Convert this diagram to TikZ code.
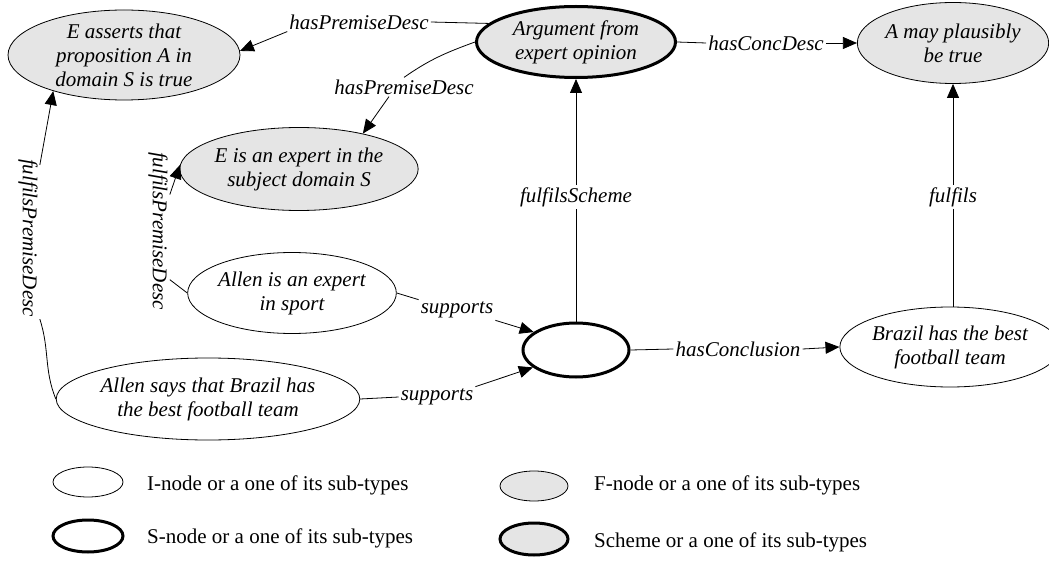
\documentclass[tikz,border=0pt]{standalone}
\usepackage{fontspec}
\setmainfont{Liberation Serif}[ItalicFont={Liberation Serif Italic},BoldFont={Liberation Serif Bold}]
\usetikzlibrary{shapes.geometric,arrows.meta,calc}
\definecolor{fgray}{RGB}{229,229,229}
\begin{document}
\begin{tikzpicture}[x=1pt,y=-1pt,
  el/.style={ellipse,draw,line width=0.8pt,inner sep=0pt,align=center,
    font=\fontsize{21}{24}\selectfont\itshape},
  inode/.style={el,fill=white},
  fnode/.style={el,fill=fgray},
  snode/.style={el,fill=white,line width=3pt},
  scheme/.style={el,fill=fgray,line width=3pt},
  lbl/.style={inner sep=2pt,font=\fontsize{21}{24}\selectfont\itshape},
  con/.style={line width=0.8pt},
  arr/.style={con,-{Triangle[length=14pt,width=12pt]}},
  legtext/.style={anchor=west,inner sep=0pt,font=\fontsize{21}{24}\selectfont}
]
\useasboundingbox (0,0) rectangle (1049,561);

% main nodes
\node[fnode,minimum width=232pt,minimum height=90pt] (asserts) at (124,55) {E asserts that\\proposition A in\\domain S is true};
\node[scheme,minimum width=199pt,minimum height=71pt] (arg) at (576,42) {Argument from\\expert opinion};
\node[fnode,minimum width=186pt,minimum height=81pt] (concl) at (953,43) {A may plausibly\\be true};
\node[fnode,minimum width=225pt,minimum height=83pt] (expert) at (299,169) {E is an expert in the\\subject domain S};
\node[inode,minimum width=195pt,minimum height=81pt] (allenexp) at (292,293) {Allen is an expert\\in sport};
\node[inode,minimum width=273pt,minimum height=82pt] (allensays) at (208,399) {Allen says that Brazil has\\the best football team};
\node[snode,minimum width=106pt,minimum height=54pt] (s) at (576,350) {};
\node[inode,minimum width=200pt,minimum height=80pt] (brazil) at (950,347) {Brazil has the best\\football team};

% labels
\node[lbl] (l1) at (359,22) {hasPremiseDesc};
\node[lbl] (l2) at (404,87) {hasPremiseDesc};
\node[lbl] (l3) at (766,43) {hasConcDesc};
\node[lbl] (l4) at (576,197) {fulfilsScheme};
\node[lbl] (l5) at (953,197) {fulfils};
\node[lbl] (l6) at (738,349) {hasConclusion};
\node[lbl] (l7) at (457,310) {supports};
\node[lbl] (l8) at (437,397) {supports};
\node[lbl,rotate=-90] (l9) at (28,238) {fulfilsPremiseDesc};
\node[lbl,rotate=-90] (l10) at (158,231) {fulfilsPremiseDesc};

% connectors
\draw[con] (arg.168) -- (l1.east);
\draw[arr] (l1.south west) -- (asserts.2);
\draw[con] (arg.west) to[out=200,in=35] (l2.north);
\draw[arr] ($(l2.south)+(-15,0)$) -- (expert.29);
\draw[con] (arg.east) -- (l3.west);
\draw[arr] (l3.east) -- (concl.west);
\draw[con] (s.north) -- (l4.south);
\draw[arr] (l4.north) -- (arg.south);
\draw[con] (l5.south) -- (l5.south |- brazil.north);
\draw[arr] (l5.north) -- (concl.south);
\draw[con] (s.east) -- (l6.west);
\draw[arr] (l6.east) -- (brazil.west);
\draw[con] (allenexp.east) -- (l7.north west);
\draw[arr] (l7.south east) -- (s.157);
\draw[con] (allensays.east) -- (l8.west);
\draw[arr] (l8.north east) -- (s.202);
\draw[con] (allensays.west) to[out=112,in=-72] (l9.north east);
\draw[arr] ($(l9.north)!0.9!(l9.north west)$) -- (asserts.207);
\draw[con] (allenexp.west) -- ($(l10.north)!0.6!(l10.north east)$);
\draw[arr] ($(l10.north)!0.45!(l10.north west)$) -- (expert.178);

% legend
\node[inode,minimum width=70pt,minimum height=30pt] (li) at (88,482) {};
\node[legtext] (lit) at (147,485) {I-node or a one of its sub-types};
\node[snode,minimum width=70pt,minimum height=32pt] (ls) at (88,536) {};
\node[legtext] (lst) at (147,538) {S-node or a one of its sub-types};
\node[fnode,minimum width=68pt,minimum height=30pt] (lf) at (534,486) {};
\node[legtext] (lft) at (594,485) {F-node or a one of its sub-types};
\node[scheme,minimum width=68pt,minimum height=32pt] (lsc) at (534,539) {};
\node[legtext] (lsct) at (594,542) {Scheme or a one of its sub-types};
\end{tikzpicture}
\end{document}
